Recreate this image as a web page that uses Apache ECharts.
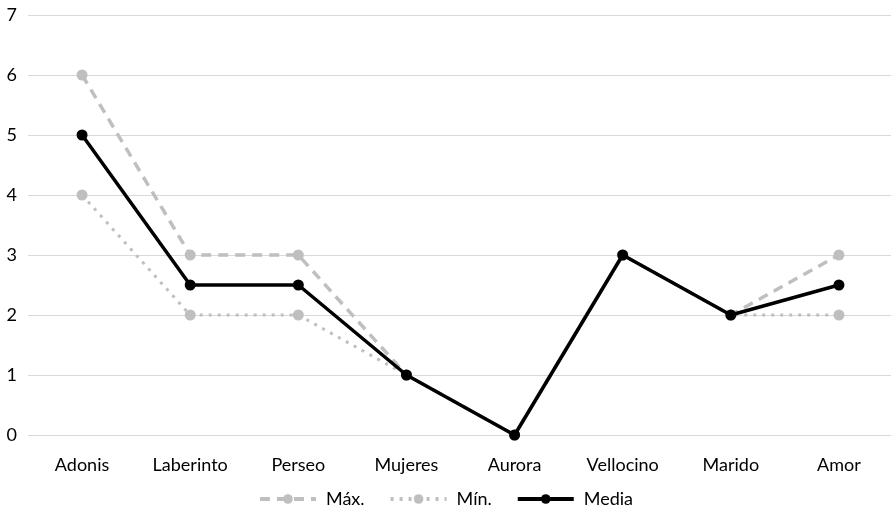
<!DOCTYPE html>
<html><head><meta charset="utf-8">
<script src="https://cdn.jsdelivr.net/npm/echarts@6/dist/echarts.min.js"></script>
<style>html,body{margin:0;padding:0;background:#fff}#c{width:891px;height:516px}</style>
</head><body><div id="c"></div>
<script>
const categories = ['Adonis','Laberinto','Perseo','Mujeres','Aurora','Vellocino','Marido','Amor'];
const maxValues = [6,3,3,1,0,3,2,3];
const minValues = [4,2,2,1,0,3,2,2];
const meanValues = [5,2.5,2.5,1,0,3,2,2.5];
const seriesNames = ['Máx.','Mín.','Media'];
const font = 'Lato, "Open Sans", sans-serif';
const chart = echarts.init(document.getElementById('c'));
chart.setOption({
  animation:false,
  grid:{left:28,right:-2,top:15,bottom:81,containLabel:false,outerBoundsMode:'none'},
  xAxis:{type:'category',data:categories,boundaryGap:true,
    axisLine:{show:false},axisTick:{show:false},
    axisLabel:{color:'#000',fontSize:18,fontFamily:font,margin:21}},
  yAxis:{type:'value',min:0,max:7,interval:1,
    axisLine:{show:false},axisTick:{show:false},
    splitLine:{lineStyle:{color:'#d9d9d9',width:1}},
    axisLabel:{color:'#000',fontSize:18,fontFamily:font,margin:11}},
  legend:{top:485,left:'center',itemWidth:56,itemHeight:12,itemGap:24,
    textStyle:{color:'#000',fontSize:18,fontFamily:font,padding:[0,0,0,5]},
    lineStyle:{width:4},
    data:seriesNames},
  series:[
    {name:seriesNames[0],type:'line',data:maxValues,symbol:'circle',symbolSize:11,
     lineStyle:{color:'#bfbfbf',width:3.5,type:[10,7]},itemStyle:{color:'#bfbfbf'},z:2},
    {name:seriesNames[1],type:'line',data:minValues,symbol:'circle',symbolSize:11,
     lineStyle:{color:'#bfbfbf',width:3,type:[3,6]},itemStyle:{color:'#bfbfbf'},z:3},
    {name:seriesNames[2],type:'line',data:meanValues,symbol:'circle',symbolSize:11,
     lineStyle:{color:'#000',width:3.5},itemStyle:{color:'#000'},z:4}
  ]
});
</script></body></html>
